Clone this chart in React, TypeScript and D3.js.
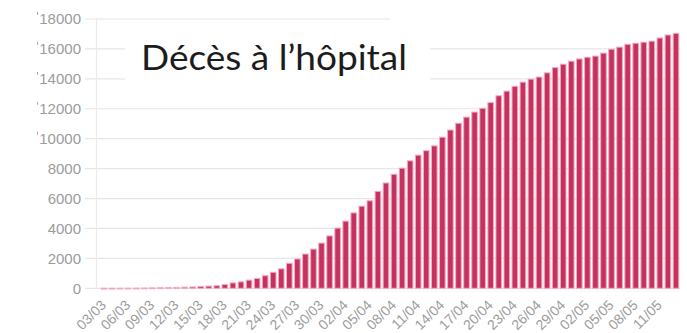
import React from "react";
import * as d3 from "d3";

// Daily cumulative hospital deaths, 03/03 → 13/05
const days = [
  "03/03", "04/03", "05/03", "06/03", "07/03", "08/03", "09/03", "10/03", "11/03", "12/03",
  "13/03", "14/03", "15/03", "16/03", "17/03", "18/03", "19/03", "20/03", "21/03", "22/03",
  "23/03", "24/03", "25/03", "26/03", "27/03", "28/03", "29/03", "30/03", "31/03", "01/04",
  "02/04", "03/04", "04/04", "05/04", "06/04", "07/04", "08/04", "09/04", "10/04", "11/04",
  "12/04", "13/04", "14/04", "15/04", "16/04", "17/04", "18/04", "19/04", "20/04", "21/04",
  "22/04", "23/04", "24/04", "25/04", "26/04", "27/04", "28/04", "29/04", "30/04", "01/05",
  "02/05", "03/05", "04/05", "05/05", "06/05", "07/05", "08/05", "09/05", "10/05", "11/05",
  "12/05", "13/05",
];

const deaths = [
  4, 4, 6, 9, 11, 19, 25, 33, 48, 61,
  79, 91, 127, 148, 175, 250, 360, 430, 545, 660,
  840, 1070, 1300, 1670, 1960, 2290, 2620, 3020, 3500, 4020,
  4490, 5040, 5490, 5850, 6480, 7040, 7620, 8030, 8520, 8900,
  9200, 9520, 10100, 10580, 11030, 11440, 11780, 12030, 12410, 12870,
  13180, 13500, 13780, 13980, 14120, 14400, 14750, 14980, 15180, 15330,
  15440, 15520, 15720, 15980, 16120, 16310, 16380, 16450, 16520, 16730,
  16930, 17040,
];

const xTickLabels = [
  "03/03", "06/03", "09/03", "12/03", "15/03", "18/03", "21/03", "24/03",
  "27/03", "30/03", "02/04", "05/04", "08/04", "11/04", "14/04", "17/04",
  "20/04", "23/04", "26/04", "29/04", "02/05", "05/05", "08/05", "11/05",
];

const yTicks = [0, 2000, 4000, 6000, 8000, 10000, 12000, 14000, 16000, 18000];

const title = "Décès à l’hôpital";

const W = 687;
const H = 333;

export default function App() {
  const x = d3
    .scaleBand<string>()
    .domain(days)
    .range([100, 680])
    .paddingInner(0.3)
    .paddingOuter(0.15);

  const y = d3.scaleLinear().domain([0, 18000]).range([288.3, 19]);

  const gridLeft = 85;
  const gridRight = 680;
  const axisX = 96.5;
  const labelFont = "'Liberation Sans', Arial, Helvetica, sans-serif";

  return (
    <svg
      width={W}
      height={H}
      viewBox={`0 0 ${W} ${H}`}
      style={{ position: "absolute", left: 0, top: 0, background: "#fff" }}
    >
      {/* horizontal gridlines */}
      {yTicks.map((t) => (
        <line
          key={`g${t}`}
          x1={gridLeft}
          x2={gridRight}
          y1={y(t)}
          y2={y(t)}
          stroke="#e6e6e6"
          strokeWidth={1.2}
        />
      ))}

      {/* vertical axis line */}
      <line x1={axisX} x2={axisX} y1={y(18000)} y2={y(0)} stroke="#ebebeb" strokeWidth={1.2} />

      {/* panels that mask part of the grid behind the title */}
      <rect x={125} y={30} width={305} height={66} fill="#fff" />
      <rect x={390} y={8} width={297} height={20} fill="#fff" />

      {/* y labels */}
      {yTicks.map((t) => (
        <g key={`y${t}`}>
          <text
            x={81}
            y={y(t)}
            dy="0.36em"
            textAnchor="end"
            fontFamily={labelFont}
            fontSize={15}
            fill="#9c9c9c"
          >
            {t}
          </text>
          {t >= 10000 && (
            <line
              x1={37.5}
              x2={37.5}
              y1={y(t) - 7}
              y2={y(t) - 4}
              stroke="#a8a8a8"
              strokeWidth={1}
            />
          )}
        </g>
      ))}

      {/* bars */}
      {days.map((d, i) => {
        const top = y(deaths[i]);
        const base = y(0);
        return (
          <rect
            key={d}
            x={x(d)}
            y={top}
            width={x.bandwidth()}
            height={Math.max(base - top, 0.8)}
            fill="#c5325e"
            stroke="#f2a9c0"
            strokeWidth={1}
          />
        );
      })}

      {/* x labels */}
      {xTickLabels.map((d) => {
        const cx = (x(d) ?? 0) + x.bandwidth() / 2;
        return (
          <text
            key={`x${d}`}
            transform={`translate(${cx + 3},${306}) rotate(-45)`}
            textAnchor="end"
            fontFamily={labelFont}
            fontSize={14}
            fill="#9c9c9c"
          >
            {d}
          </text>
        );
      })}

      {/* title */}
      <text
        x={141}
        y={70}
        fontFamily="Lato, 'Open Sans', sans-serif"
        fontSize={34}
        fill="#1c1c1c"
        textLength={266}
        lengthAdjust="spacingAndGlyphs"
      >
        {title}
      </text>
    </svg>
  );
}
